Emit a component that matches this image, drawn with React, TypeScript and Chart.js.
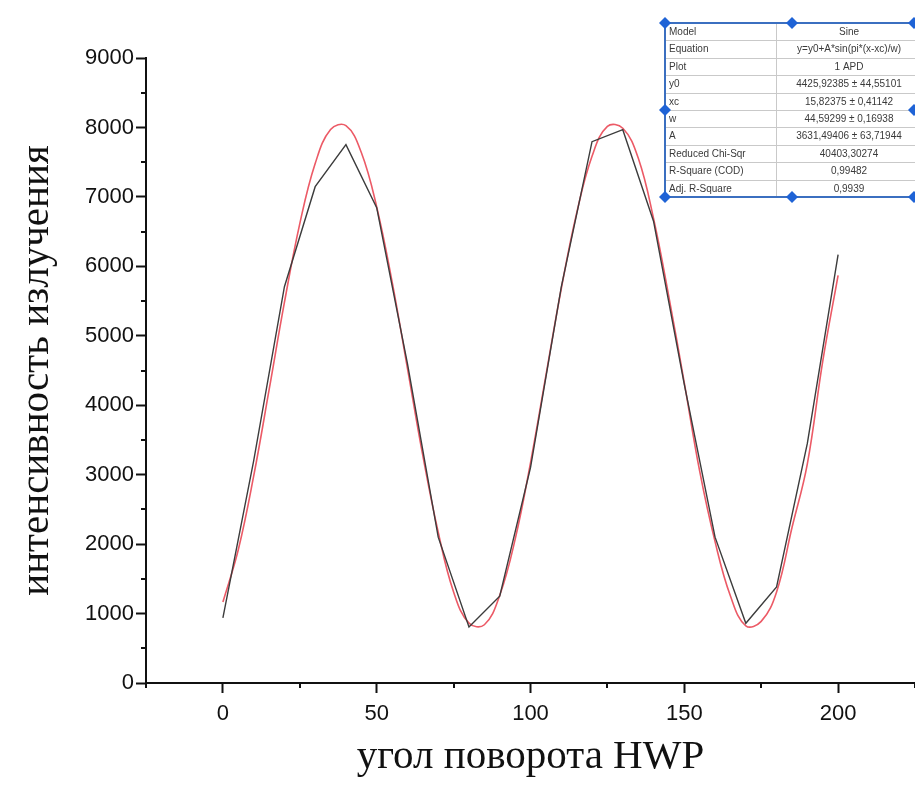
import React, { useEffect, useRef } from 'react';
import { Chart, registerables } from 'chart.js';

Chart.register(...registerables);

// measured data (angle in degrees, intensity)
const angles = [0, 10, 20, 30, 40, 50, 60, 70, 80, 90, 100, 110, 120, 130, 140, 150, 160, 170, 180, 190, 200];
const intensity = [937, 3200, 5706, 7147, 7752, 6845, 4600, 2100, 807, 1250, 3100, 5700, 7795, 7968, 6650, 4300, 2100, 860, 1383, 3450, 6167];

// fitted sine curve, every 5 degrees
const fitAngles = [0, 5, 10, 15, 20, 25, 30, 35, 40, 45, 50, 55, 60, 65, 70, 75, 80, 85, 90, 95, 100, 105, 110, 115, 120, 125, 130, 135, 140, 145, 150, 155, 160, 165, 170, 175, 180, 185, 190, 195, 200];
const fitIntensity = [1166, 1918, 2978, 4216, 5480, 6614, 7480, 7970, 8026, 7639, 6857, 5780, 4532, 3273, 2172, 1310, 862, 839, 1263, 2068, 3171, 4425, 5677, 6764, 7584, 8015, 7989, 7562, 6691, 5558, 4323, 3050, 2035, 1253, 824, 887, 1312, 2235, 3156, 4632, 5870];

const xTicks = [0, 50, 100, 150, 200];
const yTicks = [0, 1000, 2000, 3000, 4000, 5000, 6000, 7000, 8000, 9000];
const yMinorTicks = [500, 1500, 2500, 3500, 4500, 5500, 6500, 7500, 8500];
const xMinorTicks = [-25, 25, 75, 125, 175, 225];

const tableLabels = ['Model', 'Equation', 'Plot', 'y0', 'xc', 'w', 'A', 'Reduced Chi-Sqr', 'R-Square (COD)', 'Adj. R-Square'];
const tableValues = ['Sine', 'y=y0+A*sin(pi*(x-xc)/w)', '1 APD', '4425,92385 ± 44,55101', '15,82375 ± 0,41142', '44,59299 ± 0,16938', '3631,49406 ± 63,71944', '40403,30274', '0,99482', '0,9939'];

const W = 915;
const H = 785;

const extrasPlugin = {
  id: 'extras',
  afterDraw(chart: any) {
    const ctx = chart.ctx as CanvasRenderingContext2D;
    const xs = chart.scales.x;
    const ys = chart.scales.y;
    const area = chart.chartArea;
    ctx.save();
    // minor ticks
    ctx.strokeStyle = '#111';
    ctx.lineWidth = 2;
    for (const v of yMinorTicks) {
      const py = Math.round(ys.getPixelForValue(v));
      ctx.beginPath();
      ctx.moveTo(area.left, py);
      ctx.lineTo(area.left - 5, py);
      ctx.stroke();
    }
    for (const v of xMinorTicks) {
      const px = Math.round(xs.getPixelForValue(v));
      ctx.beginPath();
      ctx.moveTo(px, area.bottom);
      ctx.lineTo(px, area.bottom + 5);
      ctx.stroke();
    }

    // fit results table
    const left = 665;
    const top = 23;
    const rowH = 17.4;
    const split = 776;
    const right = 940;
    const bottom = top + rowH * tableLabels.length;
    ctx.fillStyle = '#ffffff';
    ctx.fillRect(left, top, right - left, bottom - top);
    ctx.strokeStyle = '#c9c9c9';
    ctx.lineWidth = 1;
    for (let i = 1; i < tableLabels.length; i++) {
      const yy = Math.round(top + rowH * i) + 0.5;
      ctx.beginPath();
      ctx.moveTo(left, yy);
      ctx.lineTo(right, yy);
      ctx.stroke();
    }
    ctx.beginPath();
    ctx.moveTo(split + 0.5, top);
    ctx.lineTo(split + 0.5, bottom);
    ctx.stroke();

    ctx.font = '10px "Liberation Sans", Arial, sans-serif';
    ctx.fillStyle = '#3a3a3a';
    ctx.textBaseline = 'middle';
    for (let i = 0; i < tableLabels.length; i++) {
      const cy = top + rowH * i + rowH / 2 + 0.5;
      ctx.textAlign = 'left';
      ctx.fillText(tableLabels[i], left + 4, cy);
      ctx.textAlign = 'center';
      ctx.fillText(tableValues[i], 849, cy);
    }

    ctx.strokeStyle = '#3b6fc0';
    ctx.lineWidth = 2;
    ctx.strokeRect(left, top, right - left, bottom - top);

    // selection handles
    const mid = (top + bottom) / 2;
    const handles = [
      [left, top], [792, top], [W - 1, top],
      [left, mid], [W - 1, mid],
      [left, bottom], [792, bottom], [W - 1, bottom],
    ];
    ctx.fillStyle = '#1f63d6';
    for (const [hx, hy] of handles) {
      ctx.beginPath();
      ctx.moveTo(hx, hy - 6);
      ctx.lineTo(hx + 6, hy);
      ctx.lineTo(hx, hy + 6);
      ctx.lineTo(hx - 6, hy);
      ctx.closePath();
      ctx.fill();
    }
    ctx.restore();
  },
};

export default function App() {
  const ref = useRef<HTMLCanvasElement | null>(null);

  useEffect(() => {
    if (!ref.current) return;
    const chart = new Chart(ref.current, {
      type: 'scatter',
      data: {
        datasets: [
          {
            label: 'fit',
            data: fitAngles.map((a, i) => ({ x: a, y: fitIntensity[i] })),
            showLine: true,
            borderColor: '#ec5a66',
            borderWidth: 1.6,
            pointRadius: 0,
            tension: 0.4,
            order: 2,
          },
          {
            label: '1 APD',
            data: angles.map((a, i) => ({ x: a, y: intensity[i] })),
            showLine: true,
            borderColor: '#3c3c3c',
            borderWidth: 1.4,
            pointRadius: 0,
            tension: 0,
            order: 1,
          },
        ],
      },
      options: {
        responsive: false,
        animation: false,
        layout: { padding: { top: 58, left: 0, right: 0, bottom: 0 } },
        plugins: { legend: { display: false }, tooltip: { enabled: false } },
        scales: {
          x: {
            type: 'linear',
            min: -25,
            max: 225,
            afterBuildTicks: (s: any) => { s.ticks = xTicks.map((v) => ({ value: v })); },
            afterFit: (s: any) => { s.height = H - 683; s.paddingRight = 0; s.paddingLeft = 0; },
            border: { display: true, color: '#111', width: 2 },
            grid: { display: true, drawOnChartArea: false, drawTicks: true, tickLength: 10, tickWidth: 2, tickColor: '#111' },
            ticks: {
              padding: 8,
              color: '#111',
              font: { size: 22, family: '"Liberation Sans", Arial, sans-serif' },
              maxRotation: 0,
              autoSkip: false,
              callback: (v: any) => String(v),
            },
            title: {
              display: true,
              text: 'угол поворота HWP',
              color: '#111',
              font: { size: 41, family: '"Liberation Serif", "Times New Roman", serif' },
              padding: { top: 0, bottom: 3 },
            },
          },
          y: {
            type: 'linear',
            min: 0,
            max: 9000,
            afterBuildTicks: (s: any) => { s.ticks = yTicks.map((v) => ({ value: v })); },
            afterFit: (s: any) => { s.width = 146; },
            border: { display: true, color: '#111', width: 2 },
            grid: { display: true, drawOnChartArea: false, drawTicks: true, tickLength: 10, tickWidth: 2, tickColor: '#111' },
            ticks: {
              padding: 2,
              color: '#111',
              font: { size: 22, family: '"Liberation Sans", Arial, sans-serif' },
              autoSkip: false,
              callback: (v: any) => String(v),
            },
            title: {
              display: true,
              text: 'интенсивность излучения',
              color: '#111',
              font: { size: 41, family: '"Liberation Serif", "Times New Roman", serif' },
              padding: { top: 13, bottom: 0 },
            },
          },
        },
      },
      plugins: [extrasPlugin],
    });
    return () => chart.destroy();
  }, []);

  return (
    <div style={{ position: 'absolute', left: 0, top: 0, width: W, height: H, background: '#fff' }}>
      <canvas ref={ref} width={W} height={H} style={{ width: W, height: H, display: 'block' }} />
    </div>
  );
}
